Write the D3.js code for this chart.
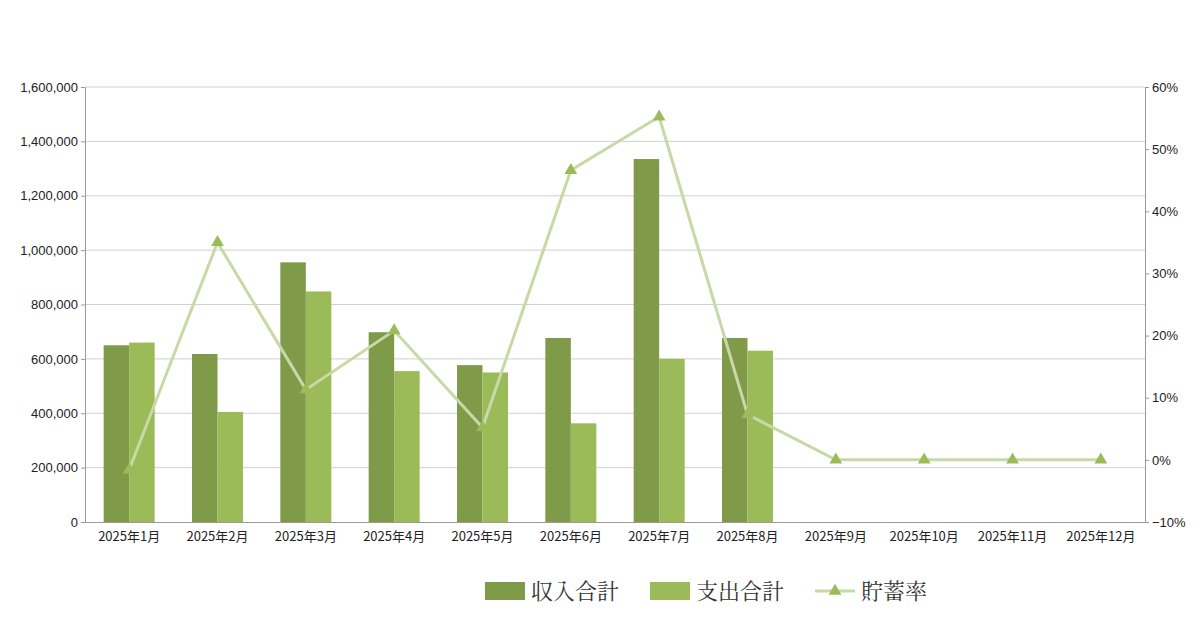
<!DOCTYPE html><html><head><meta charset="utf-8">
<script src="https://cdn.jsdelivr.net/npm/d3@7"></script>
<style>body{margin:0;background:#fff}svg{font-family:"Liberation Sans",Arial,sans-serif}</style></head>
<body><svg width="1200" height="630"></svg><script>
const months=["2025年1月","2025年2月","2025年3月","2025年4月","2025年5月","2025年6月","2025年7月","2025年8月","2025年9月","2025年10月","2025年11月","2025年12月"];
const income=[650000,618000,955000,698000,577000,677000,1335000,677000,null,null,null,null];
const expense=[660000,405000,848000,555000,550000,363000,600000,630000,null,null,null,null];
const rate=[-0.016,0.35,0.113,0.208,0.052,0.466,0.552,0.073,0,0,0,0];
const leftTicks=[0,200000,400000,600000,800000,1000000,1200000,1400000,1600000];
const rightTicks=[-0.1,0,0.1,0.2,0.3,0.4,0.5,0.6];
const names=["収入合計","支出合計","貯蓄率"];
const svg=d3.select("svg");
const L=85,R=1145,T=87,B=522;
const x=d3.scaleBand().domain(months).range([L,R]);
const xs=d3.scaleBand().domain([0,1]).range([0,51]);
const y=d3.scaleLinear().domain([0,1600000]).range([B,T]);
const y2=d3.scaleLinear().domain([-0.1,0.6]).range([B,T]);
svg.append("g").selectAll("line").data(leftTicks.slice(1)).join("line")
 .attr("x1",L).attr("x2",R).attr("y1",d=>y(d)).attr("y2",d=>y(d)).attr("stroke","#d0d0d0");
svg.append("g").attr("transform",`translate(${L},0)`).call(d3.axisLeft(y).tickValues(leftTicks).tickFormat(d3.format(",")).tickSize(4))
 .call(g=>{g.selectAll("text").attr("font-size",13).attr("fill","#222");g.selectAll("line,path").attr("stroke","#999");});
svg.append("g").attr("transform",`translate(${R},0)`).call(d3.axisRight(y2).tickValues(rightTicks).tickFormat(d3.format(".0%")).tickSize(4))
 .call(g=>{g.selectAll("text").attr("font-size",13).attr("fill","#222");g.selectAll("line,path").attr("stroke","#999");});
svg.append("g").attr("transform",`translate(0,${B})`).call(d3.axisBottom(x).tickSize(0).tickPadding(10))
 .call(g=>{g.selectAll("text").attr("font-size",13).attr("fill","#222").attr("font-family","'Noto Sans CJK JP',sans-serif");g.selectAll("path").attr("stroke","#999");});
const off=(x.bandwidth()-51)/2;
[[income,"#7f9a48",0],[expense,"#9bbb59",1]].forEach(([arr,c,i])=>{
 svg.append("g").selectAll("rect").data(months.map((m,k)=>({m,v:arr[k]})).filter(d=>d.v!=null)).join("rect")
  .attr("x",d=>x(d.m)+off+xs(i)).attr("width",xs.bandwidth()).attr("y",d=>y(d.v)).attr("height",d=>B-y(d.v)).attr("fill",c);
});
const cx=m=>x(m)+x.bandwidth()/2;
svg.append("path").datum(rate).attr("fill","none").attr("stroke","#c7d9a6").attr("stroke-width",3)
 .attr("d",d3.line().x((d,i)=>cx(months[i])).y(d=>y2(d)));
const tri=d3.symbol().type(d3.symbolTriangle).size(70);
svg.append("g").selectAll("path").data(rate).join("path").attr("d",tri)
 .attr("transform",(d,i)=>`translate(${cx(months[i])},${y2(d)})`).attr("fill","#9bbb59");
const lg=svg.append("g").attr("font-family","'Noto Serif CJK JP','Noto Sans CJK JP',serif").attr("font-size",22).attr("fill","#333");
lg.append("rect").attr("x",485).attr("y",582).attr("width",40).attr("height",18).attr("fill","#7f9a48");
lg.append("text").attr("x",531).attr("y",599).text(names[0]);
lg.append("rect").attr("x",650).attr("y",582).attr("width",40).attr("height",18).attr("fill","#9bbb59");
lg.append("text").attr("x",696).attr("y",599).text(names[1]);
lg.append("line").attr("x1",815).attr("x2",855).attr("y1",591).attr("y2",591).attr("stroke","#c7d9a6").attr("stroke-width",3);
lg.append("path").attr("d",tri).attr("transform","translate(835,591)").attr("fill","#9bbb59");
lg.append("text").attr("x",861).attr("y",599).text(names[2]);
</script></body></html>
